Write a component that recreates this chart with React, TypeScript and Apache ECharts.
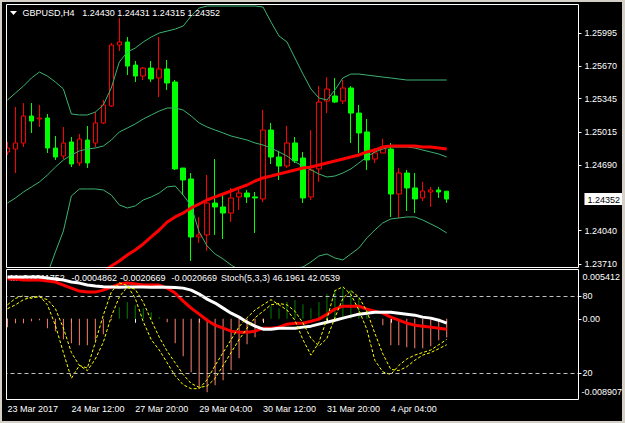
import React, { useEffect, useRef } from 'react';
import * as echarts from 'echarts';

const SYMBOL = 'GBPUSD,H4';
const MACD_NAME = 'M';
const STOCH_NAME = 'Stoch(5,3,3)';
const FONT = 'Liberation Sans, Arial, sans-serif';

const times: string[] = [
  '23 Mar 04:00', '23 Mar 08:00', '23 Mar 12:00', '23 Mar 16:00', '23 Mar 20:00',
  '24 Mar 00:00', '24 Mar 04:00', '24 Mar 08:00', '24 Mar 12:00', '24 Mar 16:00', '24 Mar 20:00',
  '27 Mar 00:00', '27 Mar 04:00', '27 Mar 08:00', '27 Mar 12:00', '27 Mar 16:00', '27 Mar 20:00',
  '28 Mar 00:00', '28 Mar 04:00', '28 Mar 08:00', '28 Mar 12:00', '28 Mar 16:00', '28 Mar 20:00',
  '29 Mar 00:00', '29 Mar 04:00', '29 Mar 08:00', '29 Mar 12:00', '29 Mar 16:00', '29 Mar 20:00',
  '30 Mar 00:00', '30 Mar 04:00', '30 Mar 08:00', '30 Mar 12:00', '30 Mar 16:00', '30 Mar 20:00',
  '31 Mar 00:00', '31 Mar 04:00', '31 Mar 08:00', '31 Mar 12:00', '31 Mar 16:00', '31 Mar 20:00',
  '3 Apr 00:00', '3 Apr 04:00', '3 Apr 08:00', '3 Apr 12:00', '3 Apr 16:00', '3 Apr 20:00',
  '4 Apr 00:00', '4 Apr 04:00', '4 Apr 08:00', '4 Apr 12:00', '4 Apr 16:00', '4 Apr 20:00',
  '5 Apr 00:00', '5 Apr 04:00', '5 Apr 08:00',
];
const FUTURE_SLOTS = 16;
const xTickLabels = ['23 Mar 2017', '24 Mar 12:00', '27 Mar 20:00', '29 Mar 04:00', '30 Mar 12:00', '31 Mar 20:00', '4 Apr 04:00'];
const LABEL_STEP = 8;

const opens = [
  1.24818, 1.24847, 1.24907, 1.25174, 1.25144, 1.25154, 1.24857, 1.24778, 1.24917, 1.24709,
  1.24936, 1.24907, 1.25105, 1.25273, 1.25876, 1.25906, 1.25678, 1.25569, 1.25648, 1.25550,
  1.25639, 1.25510, 1.24659, 1.24551, 1.23977, 1.23997, 1.24313, 1.24274, 1.24214, 1.24373,
  1.24412, 1.24373, 1.24353, 1.25035, 1.24768, 1.24679, 1.24907, 1.24758, 1.24373, 1.24650,
  1.25322, 1.25372, 1.25322, 1.25451, 1.25203, 1.25016, 1.24748, 1.24808, 1.24847, 1.24402,
  1.24610, 1.24462, 1.24363, 1.24422, 1.24442, 1.24430,
];
const closes = [
  1.24857, 1.24907, 1.25174, 1.25124, 1.25154, 1.24857, 1.24768, 1.24907, 1.24699, 1.24946,
  1.24709, 1.25105, 1.25283, 1.25876, 1.25906, 1.25668, 1.25569, 1.25648, 1.25540, 1.25639,
  1.25500, 1.24650, 1.24541, 1.23977, 1.23997, 1.24313, 1.24274, 1.24214, 1.24363, 1.24412,
  1.24373, 1.24363, 1.25035, 1.24768, 1.24679, 1.24907, 1.24729, 1.24363, 1.24640, 1.25312,
  1.25441, 1.25312, 1.25451, 1.25203, 1.25006, 1.24739, 1.24808, 1.24867, 1.24402, 1.24610,
  1.24462, 1.24353, 1.24432, 1.24442, 1.24422, 1.24352,
];
const lows = [
  1.24788, 1.24610, 1.24867, 1.25006, 1.25065, 1.24808, 1.24739, 1.24748, 1.24669, 1.24679,
  1.24659, 1.24867, 1.25095, 1.25263, 1.25817, 1.25579, 1.25510, 1.25530, 1.25510, 1.25362,
  1.25431, 1.24640, 1.24392, 1.23740, 1.23918, 1.23839, 1.23997, 1.23957, 1.24125, 1.24244,
  1.24313, 1.24017, 1.24323, 1.24699, 1.24541, 1.24659, 1.24709, 1.24313, 1.24343, 1.24521,
  1.25203, 1.25302, 1.25292, 1.24907, 1.24808, 1.24640, 1.24709, 1.24808, 1.24175, 1.24165,
  1.24234, 1.24214, 1.24333, 1.24274, 1.24363, 1.24315,
];
const highs = [
  1.24917, 1.25263, 1.25302, 1.25302, 1.25283, 1.25194, 1.24976, 1.25065, 1.24966, 1.24996,
  1.25075, 1.25213, 1.25332, 1.25896, 1.26143, 1.25955, 1.25718, 1.25658, 1.25718, 1.25955,
  1.25728, 1.25530, 1.24659, 1.24610, 1.24175, 1.24590, 1.24748, 1.24392, 1.24462, 1.24472,
  1.24442, 1.24422, 1.25233, 1.25105, 1.24828, 1.25075, 1.24966, 1.24818, 1.25035, 1.25470,
  1.25559, 1.25550, 1.25530, 1.25470, 1.25283, 1.25144, 1.24857, 1.24946, 1.24907, 1.24659,
  1.24640, 1.24610, 1.24521, 1.24472, 1.24472, 1.24431,
];

const bbUpper = [
  1.25332, 1.25401, 1.25470, 1.25550, 1.25609, 1.25569, 1.25510, 1.25441, 1.25194, 1.25184,
  1.25184, 1.25213, 1.25283, 1.25451, 1.25708, 1.25807, 1.25846, 1.25906, 1.25955, 1.25995,
  1.26014, 1.26034, 1.26064, 1.26163, 1.26242, 1.26262, 1.26262, 1.26262, 1.26262, 1.26262,
  1.26262, 1.26262, 1.26252, 1.26103, 1.25965, 1.25906, 1.25747, 1.25589, 1.25441, 1.25352,
  1.25332, 1.25431, 1.25550, 1.25589, 1.25589, 1.25579, 1.25569, 1.25559, 1.25550, 1.25540,
  1.25530, 1.25530, 1.25530, 1.25530, 1.25530, 1.25530,
];
const bbMiddle = [
  1.24313, 1.24363, 1.24422, 1.24472, 1.24521, 1.24590, 1.24669, 1.24739, 1.24788, 1.24828,
  1.24847, 1.24857, 1.24877, 1.24936, 1.25016, 1.25055, 1.25095, 1.25144, 1.25184, 1.25223,
  1.25253, 1.25253, 1.25233, 1.25174, 1.25105, 1.25065, 1.25035, 1.25006, 1.24976, 1.24956,
  1.24936, 1.24907, 1.24887, 1.24857, 1.24818, 1.24778, 1.24719, 1.24679, 1.24640, 1.24600,
  1.24570, 1.24580, 1.24610, 1.24650, 1.24709, 1.24768, 1.24818, 1.24847, 1.24867, 1.24867,
  1.24867, 1.24857, 1.24837, 1.24818, 1.24798, 1.24768,
];
const bbLower = [
  1.23295, 1.23324, 1.23374, 1.23394, 1.23433, 1.23611, 1.23829, 1.24036, 1.24383, 1.24452,
  1.24452, 1.24452, 1.24442, 1.24392, 1.24294, 1.24264, 1.24284, 1.24343, 1.24373, 1.24412,
  1.24472, 1.24481, 1.24392, 1.24284, 1.24027, 1.23888, 1.23809, 1.23759, 1.23700, 1.23651,
  1.23611, 1.23552, 1.23522, 1.23601, 1.23651, 1.23661, 1.23670, 1.23680, 1.23730, 1.23789,
  1.23809, 1.23769, 1.23750, 1.23809, 1.23868, 1.23967, 1.24046, 1.24116, 1.24155, 1.24165,
  1.24175, 1.24175, 1.24145, 1.24106, 1.24066, 1.24017,
];
// slow moving average; the first values lie below the visible price range
const maSlow = [
  1.22930, 1.22985, 1.23040, 1.23098, 1.23155, 1.23212, 1.23270, 1.23330, 1.23390, 1.23452,
  1.23512, 1.23572, 1.23631, 1.23690, 1.23740, 1.23799, 1.23848, 1.23908, 1.23977, 1.24046,
  1.24125, 1.24175, 1.24214, 1.24264, 1.24303, 1.24343, 1.24373, 1.24402, 1.24432, 1.24462,
  1.24491, 1.24531, 1.24561, 1.24580, 1.24600, 1.24620, 1.24640, 1.24659, 1.24669, 1.24689,
  1.24709, 1.24729, 1.24748, 1.24768, 1.24788, 1.24818, 1.24837, 1.24867, 1.24877, 1.24877,
  1.24877, 1.24877, 1.24867, 1.24867, 1.24857, 1.24847,
];

const macdHist = [
  -0.00093, -0.00049, -0.00049, -0.00027, -0.00016, -0.00105, -0.00138, -0.00227, -0.00271, -0.00294,
  -0.00294, -0.00238, -0.00171, -0.00016, 0.00129, 0.00185, 0.00151, 0.00118, 0.00073, 0.00018,
  -0.00038, -0.00271, -0.00416, -0.00594, -0.00761, -0.00817, -0.00739, -0.00683, -0.00572, -0.00438,
  -0.00283, -0.00205, -0.00027, 0.00140, 0.00118, 0.00185, 0.00207, 0.00162, 0.00118, 0.00185,
  0.00274, 0.00318, 0.00340, 0.00318, 0.00229, 0.00107, 0.00007, -0.00071, -0.00294, -0.00294,
  -0.00316, -0.00327, -0.00327, -0.00305, -0.00238, -0.0020669,
];
const macdWhite = [
  0.00463, 0.00463, 0.00463, 0.00463, 0.00463, 0.00452, 0.00441, 0.00430, 0.00408, 0.00396,
  0.00374, 0.00363, 0.00354, 0.00352, 0.00350, 0.00352, 0.00353, 0.00352, 0.00351, 0.00352,
  0.00350, 0.00348, 0.00340, 0.00318, 0.00274, 0.00218, 0.00174, 0.00118, 0.00062, 0.00018,
  -0.00038, -0.00082, -0.00116, -0.00116, -0.00105, -0.00105, -0.00105, -0.00093, -0.00082, -0.00060,
  -0.00038, -0.00016, 0.00007, 0.00029, 0.00051, 0.00062, 0.00073, 0.00073, 0.00073, 0.00062,
  0.00051, 0.00040, 0.00018, 0.00007, -0.00016, -0.0004862,
];
const macdRed = [
  0.00441, 0.00441, 0.00430, 0.00430, 0.00430, 0.00419, 0.00408, 0.00374, 0.00340, 0.00307,
  0.00296, 0.00296, 0.00318, 0.00352, 0.00385, 0.00396, 0.00385, 0.00374, 0.00374, 0.00374,
  0.00340, 0.00285, 0.00196, 0.00118, 0.00051, -0.00016, -0.00071, -0.00105, -0.00138, -0.00149,
  -0.00149, -0.00138, -0.00105, -0.00105, -0.00093, -0.00060, -0.00049, -0.00049, -0.00027, -0.00004,
  0.00051, 0.00107, 0.00140, 0.00140, 0.00140, 0.00107, 0.00085, 0.00062, 0.00018, -0.00016,
  -0.00049, -0.00071, -0.00082, -0.00093, -0.00105, -0.0011752,
];
const MACD_MAX = 0.005412;
const MACD_MIN = -0.008907;

const stochMain = [
  73, 78, 80, 78, 80, 73, 57, 36, 16, 26,
  24, 44, 65, 83, 90, 88, 78, 60, 46, 38,
  28, 18, 11, 8, 8, 15, 26, 36, 46, 56,
  63, 69, 73, 77, 73, 69, 61, 46, 34, 44,
  62, 84, 87, 81, 69, 54, 30, 21, 19, 26,
  31, 34, 36, 38, 42, 46.1961,
];
const stochSignal = [
  70, 73, 77, 79, 79, 77, 70, 55, 36, 26,
  22, 31, 44, 64, 79, 87, 85, 75, 61, 48,
  37, 28, 19, 12, 9, 10, 16, 26, 36, 46,
  55, 63, 68, 73, 74, 73, 68, 59, 47, 41,
  47, 63, 78, 84, 79, 68, 51, 35, 23, 22,
  25, 30, 34, 36, 39, 42.0539,
];
const stochLevels = [80, 20];

const priceTicks = [1.25995, 1.2567, 1.25345, 1.25015, 1.2469, 1.2404, 1.2371];
const PRICE_MAX = 1.26272;
const PRICE_MIN = 1.2368;

const App: React.FC = () => {
  const ref = useRef<HTMLDivElement>(null);

  useEffect(() => {
    if (!ref.current) return;
    const chart = echarts.init(ref.current, undefined, { renderer: 'svg' });

    const categories = [...times, ...new Array(FUTURE_SLOTS).fill('')];
    const candleData = opens.map((o, i) => [o, closes[i], lows[i], highs[i]]);
    const n = opens.length;
    const lastClose = closes[n - 1];
    const ohlcText = `${opens[n - 1].toFixed(5)} ${highs[n - 1].toFixed(5)} ${lows[n - 1].toFixed(5)} ${closes[n - 1].toFixed(5)}`;
    const macdValues = [macdRed[n - 1], macdWhite[n - 1], macdHist[n - 1], macdHist[n - 1]].map((v) => v.toFixed(7));
    const macdValueX = [20, 71.5, 120, 171.5];
    const stochText = `${STOCH_NAME} ${stochMain[n - 1].toFixed(4)} ${stochSignal[n - 1].toFixed(4)}`;

    const showTick = (index: number, value: string) => index % LABEL_STEP === 0 && value !== '';
    const white = '#ffffff';
    const font = `9px ${FONT}`;
    const labelBase = { color: white, fontFamily: FONT, fontSize: 9 };

    const macdAxisBase = {
      type: 'value',
      gridIndex: 1,
      position: 'right',
      min: MACD_MIN,
      max: MACD_MAX,
      axisLine: { show: false },
      splitLine: { show: false },
    };

    const textEl = (x: number, y: number, text: string, z: number) => ({
      type: 'text', z, silent: true, x, y,
      style: { text, fill: white, font, verticalAlign: 'middle' },
    });

    const option: any = {
      animation: false,
      backgroundColor: '#d4d0c8',
      textStyle: { fontFamily: FONT },
      grid: [
        { left: 3.5, width: 576, top: 5, height: 262 },
        { left: 3.5, width: 576, top: 270, height: 129 },
      ],
      xAxis: [
        {
          type: 'category', gridIndex: 0, data: categories,
          axisLine: { show: false }, axisTick: { show: false }, axisLabel: { show: false }, splitLine: { show: false },
        },
        {
          type: 'category', gridIndex: 1, data: categories,
          axisLine: { show: false },
          axisTick: { show: true, alignWithLabel: true, interval: showTick, length: 4, lineStyle: { color: white } },
          axisLabel: {
            ...labelBase, interval: showTick, align: 'left', margin: 5,
            formatter: (_v: string, index: number) => xTickLabels[index / LABEL_STEP] ?? '',
          },
          splitLine: { show: false },
        },
      ],
      yAxis: [
        {
          type: 'value', gridIndex: 0, position: 'right', min: PRICE_MIN, max: PRICE_MAX,
          axisLine: { show: false }, splitLine: { show: false },
          axisTick: { show: true, customValues: priceTicks, length: 3, lineStyle: { color: white } },
          axisLabel: {
            ...labelBase, margin: 6, showMinLabel: true, showMaxLabel: true,
            customValues: [...priceTicks, lastClose],
            formatter: (v: number) => (Math.abs(v - lastClose) < 1e-9 ? `{cur|${v.toFixed(5)}}` : v.toFixed(5)),
            rich: { cur: { backgroundColor: '#ffffff', color: '#000000', fontFamily: FONT, fontSize: 9, padding: [2, 2, 1, 3] } },
          },
        },
        {
          ...macdAxisBase,
          axisTick: { show: true, customValues: [0], length: 3, lineStyle: { color: white } },
          axisLabel: { ...labelBase, margin: 4, customValues: [0], formatter: () => '0.00' },
        },
        {
          ...macdAxisBase,
          axisTick: { show: false },
          axisLabel: {
            ...labelBase, margin: 4, customValues: [MACD_MAX], showMaxLabel: true,
            verticalAlign: 'top', lineHeight: 14, formatter: (v: number) => v.toFixed(6),
          },
        },
        {
          ...macdAxisBase,
          axisTick: { show: false },
          axisLabel: {
            ...labelBase, margin: 3, customValues: [MACD_MIN], showMinLabel: true,
            verticalAlign: 'bottom', lineHeight: 14, formatter: (v: number) => v.toFixed(6),
          },
        },
        {
          type: 'value', gridIndex: 1, position: 'right', min: 0, max: 100,
          axisLine: { show: false }, splitLine: { show: false },
          axisTick: { show: true, customValues: stochLevels, length: 3, lineStyle: { color: white } },
          axisLabel: { ...labelBase, margin: 4, customValues: stochLevels, formatter: (v: number) => String(v) },
        },
      ],
      series: [
        {
          type: 'candlestick', name: 'price', xAxisIndex: 0, yAxisIndex: 0, data: candleData, barWidth: 5,
          silent: true,
          itemStyle: { color: '#000000', color0: '#00ff00', borderColor: '#ff0000', borderColor0: '#00ff00', borderWidth: 1 },
        },
        ...[bbUpper, bbMiddle, bbLower].map((d) => ({
          type: 'line', xAxisIndex: 0, yAxisIndex: 0, data: d, symbol: 'none', silent: true,
          lineStyle: { color: '#3cb371', width: 1 },
        })),
        {
          type: 'line', xAxisIndex: 0, yAxisIndex: 0, data: maSlow, symbol: 'none', silent: true,
          lineStyle: { color: '#ff0000', width: 3 },
        },
        {
          type: 'bar', xAxisIndex: 1, yAxisIndex: 1, data: macdHist, barWidth: 1, silent: true,
          itemStyle: { color: (p: any) => (p.value >= 0 ? '#008000' : '#fa8072') },
        },
        {
          type: 'line', xAxisIndex: 1, yAxisIndex: 1, data: macdRed, symbol: 'none', silent: true,
          lineStyle: { color: '#ff0000', width: 3 },
        },
        {
          type: 'line', xAxisIndex: 1, yAxisIndex: 1, data: macdWhite, symbol: 'none', silent: true,
          lineStyle: { color: '#ffffff', width: 3 },
        },
        {
          type: 'line', xAxisIndex: 1, yAxisIndex: 4, data: stochMain, symbol: 'none', silent: true,
          lineStyle: { color: '#ffff00', width: 1, type: [3, 2] },
          markLine: {
            silent: true, symbol: 'none', label: { show: false },
            lineStyle: { color: '#c0c0c0', width: 1, type: [4, 3] },
            data: stochLevels.map((v) => ({ yAxis: v })),
          },
        },
        {
          type: 'line', xAxisIndex: 1, yAxisIndex: 4, data: stochSignal, symbol: 'none', silent: true,
          lineStyle: { color: '#ffff00', width: 1, type: [3, 2] },
        },
      ],
      graphic: [
        { type: 'rect', z: -10, silent: true, shape: { x: 2, y: 2, width: 620, height: 419 }, style: { fill: '#000000' } },
        textEl(10, 278, MACD_NAME, 1),
        ...macdValues.map((t, i) => textEl(macdValueX[i], 278, t, 1)),
        textEl(221, 278, stochText, 1),
        { type: 'rect', z: 40, silent: true, shape: { x: 2, y: 2, width: 4, height: 400 }, style: { fill: '#000000' } },
        { type: 'rect', z: 50, silent: true, shape: { x: 6.5, y: 4.5, width: 572, height: 263 }, style: { fill: 'none', stroke: white, lineWidth: 1 } },
        { type: 'rect', z: 50, silent: true, shape: { x: 6.5, y: 269.5, width: 572, height: 130 }, style: { fill: 'none', stroke: white, lineWidth: 1 } },
        { type: 'polygon', z: 50, silent: true, shape: { points: [[10, 11], [17, 11], [13.5, 15]] }, style: { fill: white } },
        textEl(22.5, 13, SYMBOL, 50),
        textEl(82.3, 13, ohlcText, 50),
      ],
    };

    chart.setOption(option);
    return () => chart.dispose();
  }, []);

  return <div ref={ref} style={{ position: 'absolute', left: 0, top: 0, width: 625, height: 423 }} />;
};

export default App;
